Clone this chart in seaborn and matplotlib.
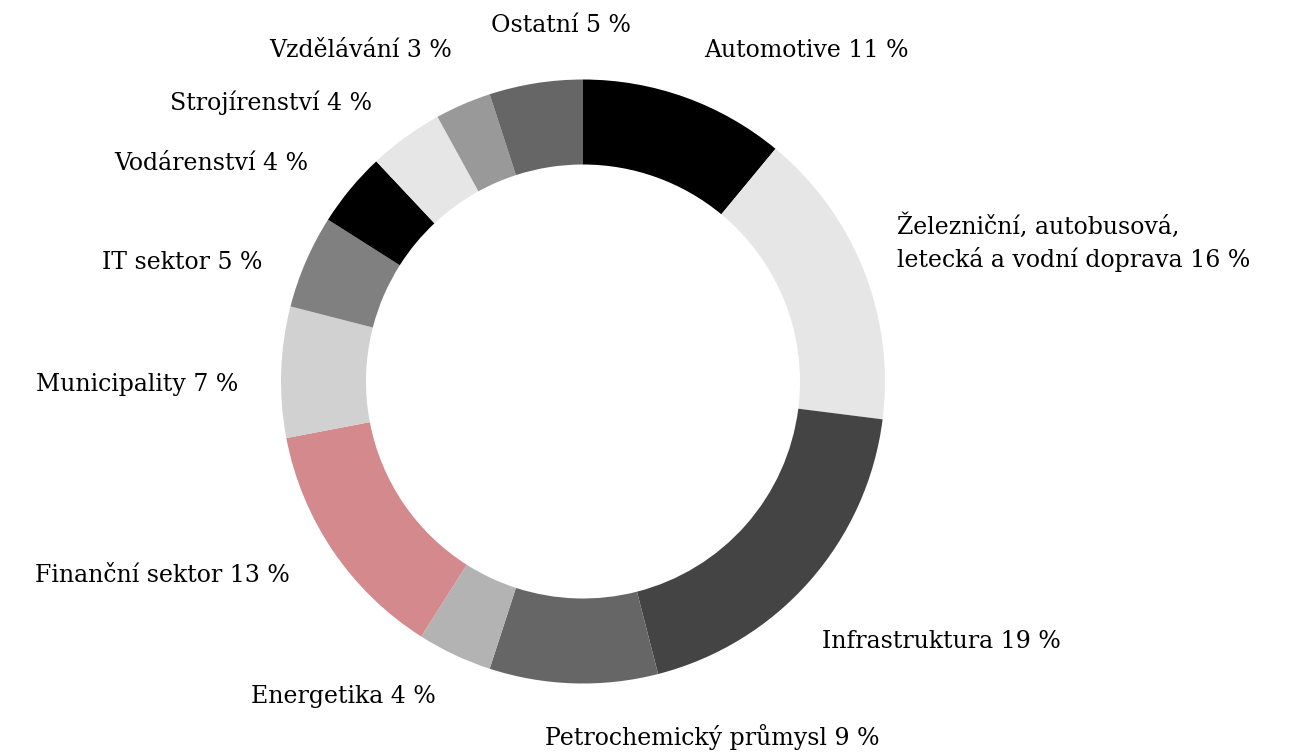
import matplotlib
matplotlib.use('Agg')
import matplotlib.pyplot as plt
import seaborn as sns

sns.set_theme(style='white')
plt.rcParams['font.family'] = ['DejaVu Serif']

# %% Data
sectors = ['Automotive', 'Železniční, autobusová,\nletecká a vodní doprava', 'Infrastruktura',
           'Petrochemický průmysl', 'Energetika', 'Finanční sektor', 'Municipality',
           'IT sektor', 'Vodárenství', 'Strojírenství', 'Vzdělávání', 'Ostatní']
shares = [11, 16, 19, 9, 4, 13, 7, 5, 4, 4, 3, 5]
colors = ['#000000', '#e6e6e6', '#444444', '#666666', '#b3b3b3', '#d4898c',
          '#d1d1d1', '#808080', '#000000', '#e6e6e6', '#999999', '#666666']

# %% Layout (pixel units, centre of ring at 0,0)
W, H = 1294, 753
cx, cy = 583, 381.5
r_out, ring = 302, 85
# label anchor offsets from centre and alignment
label_pos = [(121, 331), (314, 139), (239, -260), (-38, -356), (-147, -315), (-293, -194),
             (-345, -3), (-321, 119), (-275, 218), (-211, 279), (-131, 331), (-22, 356)]
label_ha = ['left', 'left', 'left', 'left', 'right', 'right',
            'right', 'right', 'right', 'right', 'right', 'center']

fig = plt.figure(figsize=(W / 100, H / 100), dpi=100)
ax = fig.add_axes([0, 0, 1, 1])
ax.pie(shares, colors=colors, startangle=90, counterclock=False, radius=r_out,
       wedgeprops=dict(width=ring, edgecolor='none'))
ax.set_xlim(-cx, W - cx)
ax.set_ylim(-(H - cy), cy)
ax.set_aspect('equal')
ax.axis('off')

for name, val, (dx, dy), ha in zip(sectors, shares, label_pos, label_ha):
    ax.text(dx, dy, '{} {} %'.format(name, val), ha=ha, va='center',
            fontsize=17, color='#000000', linespacing=1.4)

fig.savefig('out.png', dpi=100, facecolor='white')
